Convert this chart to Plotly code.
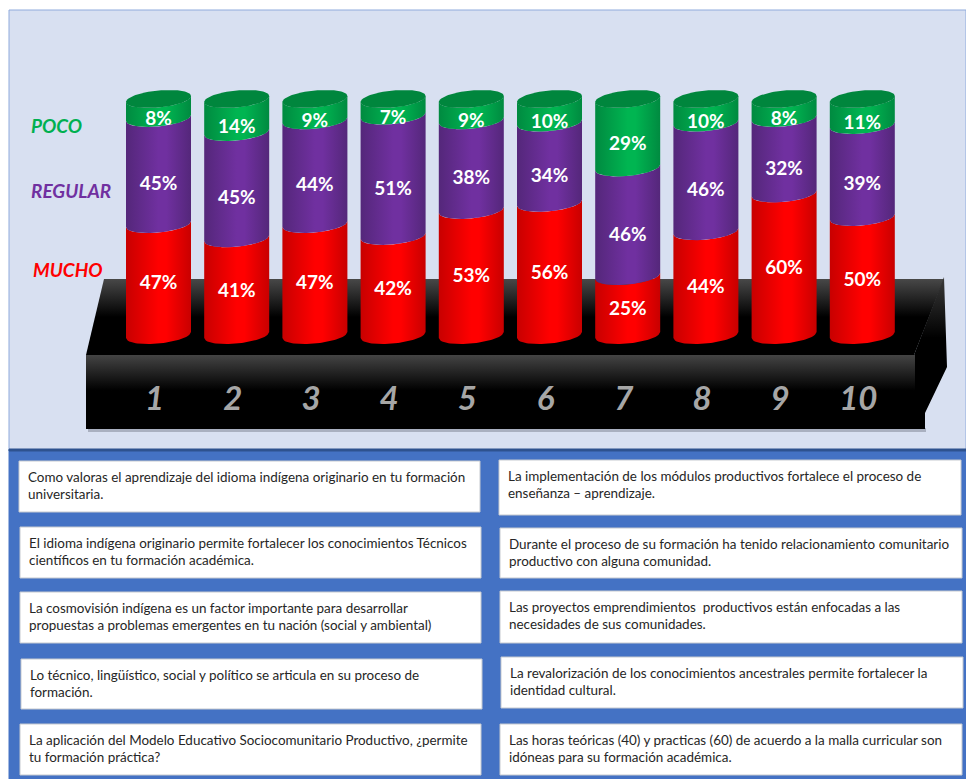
import plotly.graph_objects as go
import numpy as np

W, H = 966, 779
categories = [1, 2, 3, 4, 5, 6, 7, 8, 9, 10]
mucho = [47, 41, 47, 42, 53, 56, 25, 44, 60, 50]
regular = [45, 45, 44, 51, 38, 34, 46, 46, 32, 39]
poco = [8, 14, 9, 7, 9, 10, 29, 10, 8, 11]
series_names = ["MUCHO", "REGULAR", "POCO"]
left_questions = [
    "Como valoras el aprendizaje del idioma indígena originario en tu formación<br>universitaria.",
    "El idioma indígena originario permite fortalecer los conocimientos Técnicos<br>científicos en tu formación académica.",
    "La cosmovisión indígena es un factor importante para desarrollar<br>propuestas a problemas emergentes en tu nación (social y ambiental)",
    "Lo técnico, lingüístico, social y político se articula en su proceso de<br>formación.",
    "La aplicación del Modelo Educativo Sociocomunitario Productivo, ¿permite<br>tu formación práctica?",
]
right_questions = [
    "La implementación de los módulos productivos fortalece el proceso de<br>enseñanza – aprendizaje.",
    "Durante el proceso de su formación ha tenido relacionamiento comunitario<br>productivo con alguna comunidad.",
    "Las proyectos emprendimientos  productivos están enfocadas a las<br>necesidades de sus comunidades.",
    "La revalorización de los conocimientos ancestrales permite fortalecer la<br>identidad cultural.",
    "Las horas teóricas (40) y practicas (60) de acuerdo a la malla curricular son<br>idóneas para su formación académica.",
]

# axis calibration
X0, PITCH = 158.5, 78.2
Y0, UNIT = 343.5, 2.36
xr = [1 - X0 / PITCH, 1 + (W - X0) / PITCH]
yr = [-(H - Y0) / UNIT, Y0 / UNIT]
dx = lambda p: 1 + (p - X0) / PITCH
dy = lambda p: (Y0 - p) / UNIT
HALF = 32.5 / PITCH
SAG = 8.5 / UNIT
TILT = 3.0 / UNIT
FONT = "Lato, Open Sans, sans-serif"

fig = go.Figure()


def poly(pts, **kw):
    xs = [dx(p[0]) for p in pts]
    ys = [dy(p[1]) for p in pts]
    fig.add_trace(go.Scatter(x=xs, y=ys, fill="toself", mode="lines", line=dict(width=0),
                             hoverinfo="skip", showlegend=False, **kw))


# pedestal
poly([(104, 279), (944, 279), (914, 355), (86, 355)],
     fillgradient=dict(type="vertical", start=dy(355), stop=dy(279),
                       colorscale=[[0, "#000000"], [0.5, "#000000"], [1, "#484848"]]))
poly([(914, 355), (944, 277), (947, 367), (925, 413), (925, 429), (914, 429)],
     fillgradient=dict(type="vertical", start=dy(429), stop=dy(277),
                       colorscale=[[0, "#000000"], [0.6, "#000000"], [1, "#3a3a3a"]]))
poly([(86, 355), (915, 355), (915, 429), (86, 429)],
     fillgradient=dict(type="vertical", start=dy(429), stop=dy(355),
                       colorscale=[[0, "#000000"], [0.52, "#000000"], [1, "#444444"]]))

t = np.linspace(-1, 1, 41)


def curve(center, level):
    return center + t * HALF, level + SAG * (1 - np.sqrt(1 - t ** 2)) + TILT * t


def grad(edge, mid):
    return dict(type="horizontal",
                colorscale=[[0, edge], [0.5, mid], [0.62, mid], [1, edge]])


seg_colors = {
    "MUCHO": grad("#c80000", "#ff0000"),
    "REGULAR": grad("#54277a", "#7030a0"),
    "POCO": grad("#008a40", "#00b551"),
}
seg_text_shift = {"MUCHO": 1.4, "REGULAR": -2.4, "POCO": -1.6}
tx, ty, tt = [], [], []
for i, c in enumerate(categories):
    base = 0
    for name, vals in zip(series_names, [mucho, regular, poco]):
        v = vals[i]
        xl, yl = curve(c, base)
        xu, yu = curve(c, base + v)
        fig.add_trace(go.Scatter(
            x=np.concatenate([xl, xu[::-1]]), y=np.concatenate([yl, yu[::-1]]),
            fill="toself", mode="lines", line=dict(width=0), hoverinfo="skip", showlegend=False,
            fillgradient=seg_colors[name]))
        tx.append(c)
        ty.append(base + v / 2 + seg_text_shift[name])
        tt.append(f"{v}%")
        base += v
    # top ellipse
    th = np.linspace(0, 2 * np.pi, 81)
    ex = c + HALF * np.cos(th)
    ey = base + SAG + TILT * np.cos(th) + SAG * np.sin(th)
    fig.add_trace(go.Scatter(x=ex, y=ey, fill="toself", mode="lines", line=dict(width=0),
                             fillcolor="#00863d", hoverinfo="skip", showlegend=False))

fig.add_trace(go.Scatter(x=tx, y=ty, text=tt, mode="text", hoverinfo="skip", showlegend=False,
                         textfont=dict(family=FONT, size=19, color="white", weight="bold")))
fig.add_trace(go.Scatter(x=[c - 0.05 for c in categories], y=[dy(402)] * 10, text=[str(c) for c in categories],
                         mode="text", hoverinfo="skip", showlegend=False,
                         textfont=dict(family=FONT, size=33, color="#a6a6a6", weight="bold", style="italic")))

shapes = []


def rect(x0, y0, x1, y1, fill, line=None, lw=1):
    shapes.append(dict(type="rect", xref="paper", yref="paper", layer="below",
                       x0=x0 / W, x1=x1 / W, y0=1 - y0 / H, y1=1 - y1 / H, fillcolor=fill,
                       line=dict(color=line or fill, width=lw)))


rect(9, 10, 966, 450, "#d8e0f1", "#8faadc")
rect(88, 428, 926, 432, "#a9b0c0", "#a9b0c0", 0)
rect(9, 450, 966, 779, "#4472c4")
rect(9, 449, 966, 451, "#2f528f")

annots = []
left_boxes = [(19, 461, 480, 512), (20, 527, 481, 578), (20, 592, 481, 643), (21, 659, 482, 709), (20, 724, 481, 775)]
right_boxes = [(499, 460, 961, 515), (500, 528, 962, 578), (500, 591, 962, 643), (501, 657, 963, 708), (500, 724, 962, 775)]
for boxes, texts in ((left_boxes, left_questions), (right_boxes, right_questions)):
    for b, q in zip(boxes, texts):
        rect(*b, "white", "#c5c9cf", 1)
        annots.append(dict(xref="paper", yref="paper", x=(b[0] + 6.5) / W, y=1 - (b[1] + 26 - 1.5) / H,
                           text=q, showarrow=False, xanchor="left", yanchor="middle", align="left",
                           font=dict(family=FONT, size=13.45, color="#262626")))

for name, x, y, col in (("POCO", 29, 126, "#00b050"), ("REGULAR", 29, 190, "#7030a0"), ("MUCHO", 31, 270, "#ff0000")):
    annots.append(dict(xref="paper", yref="paper", x=x / W, y=1 - y / H, text=f"<b><i>{name}</i></b>",
                       showarrow=False, xanchor="left", yanchor="middle",
                       font=dict(family=FONT, size=19, color=col)))

fig.update_layout(width=W, height=H, margin=dict(l=0, r=0, t=0, b=0), paper_bgcolor="white",
                  plot_bgcolor="rgba(0,0,0,0)", shapes=shapes, annotations=annots, showlegend=False,
                  xaxis=dict(range=xr, visible=False, fixedrange=True),
                  yaxis=dict(range=yr, visible=False, fixedrange=True))
fig.write_html("out.html", config={"displayModeBar": False},
               post_script="document.body.style.margin='0';document.body.style.overflow='hidden';")
